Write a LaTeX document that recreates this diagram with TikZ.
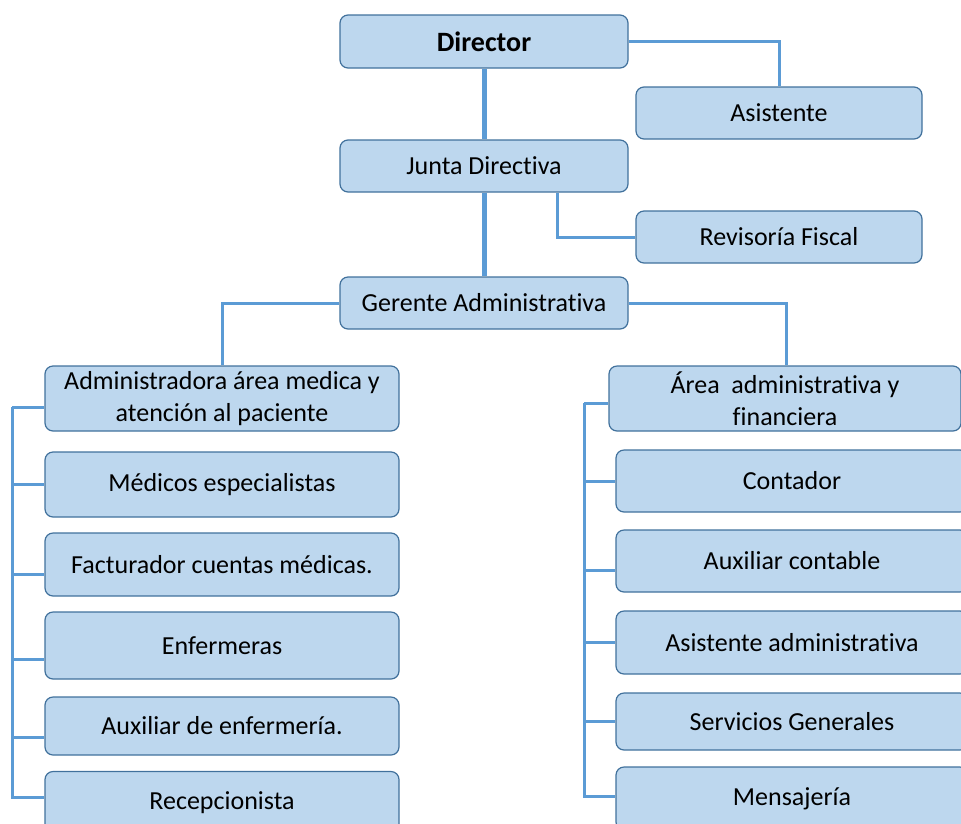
\documentclass[tikz,border=0pt]{standalone}
\usepackage{fontspec}
\setmainfont{Carlito}[Ligatures=NoCommon]
\definecolor{boxfill}{HTML}{BDD7EE}
\definecolor{boxline}{HTML}{41719C}
\definecolor{linkblue}{HTML}{5B9BD5}
\begin{document}
\begin{tikzpicture}[x=1pt, y=-1pt,
  orgbox/.style={draw=boxline, fill=boxfill, line width=1.2pt, rounded corners=8pt,
    inner sep=0pt, align=center, font=\fontsize{26}{32}\selectfont},
  link/.style={draw=linkblue, line width=3pt},
  trunk/.style={draw=linkblue, line width=5pt}]

\useasboundingbox (0,0) rectangle (961,823);

% Top of the chart
\node [orgbox, minimum width=288, minimum height=53, font=\fontsize{28}{32}\selectfont\bfseries]
  (director) at (484,41.5) {Director};
\node [orgbox, minimum width=286, minimum height=52] (asistente) at (779,113) {Asistente};
\node [orgbox, minimum width=288, minimum height=52] (junta) at (484,166) {Junta Directiva};
\node [orgbox, minimum width=286, minimum height=52] (revisoria) at (779,237) {Revisoría Fiscal};
\node [orgbox, minimum width=288, minimum height=52] (gerente) at (484,303) {Gerente Administrativa};

% The two areas under the manager
\node [orgbox, minimum width=354, minimum height=65] (medica) at (222,398.5)
  {Administradora área medica y\\atención al paciente};
\node [orgbox, minimum width=352, minimum height=65] (financiera) at (785,398.5)
  {Área~ administrativa y\\financiera};

% Staff of the medical area
\foreach \name/\yc/\h/\txt in {
  medicos/484.5/65/{Médicos especialistas},
  facturador/564.5/63/{Facturador cuentas médicas.},
  enfermeras/645.5/67/{Enfermeras},
  auxenf/726/58/{Auxiliar de enfermería.},
  recepcion/803/63/{Recepcionista}} {
  \node [orgbox, minimum width=354, minimum height=\h] (\name) at (222,\yc) {\txt};
}

% Staff of the administrative area
\foreach \name/\yc/\h/\txt in {
  contador/481/62/{Contador},
  auxcont/561/62/{Auxiliar contable},
  asisadm/642.5/63/{Asistente administrativa},
  servicios/721.5/57/{Servicios Generales},
  mensajeria/798.5/63/{Mensajería}} {
  \node [orgbox, minimum width=352, minimum height=\h] (\name) at (792,\yc) {\txt};
}

% Main line of command
\draw [trunk] (director) -- (junta);
\draw [trunk] (junta) -- (gerente);
\draw [link] (director.east) -| (asistente.north);
\draw [link] ([xshift=73]junta.south) |- (revisoria.west);
\draw [link] (gerente.west) -| (medica.north);
\draw [link] (gerente.east) -| ([xshift=1]financiera.north);

% Left and right buses
\coordinate (lbus) at (12,407);
\coordinate (rbus) at (584,403);
\foreach \name/\dy in {medica/-8.5, medicos/0, facturador/-9.5, enfermeras/-13.5,
  auxenf/-11, recepcion/6} {
  \draw [link] (lbus) |- ([yshift=\dy]\name.west);
}
\foreach \name/\dy in {financiera/-4.5, contador/0, auxcont/-9, asisadm/0,
  servicios/0, mensajeria/2.5} {
  \draw [link] (rbus) |- ([yshift=\dy]\name.west);
}

\end{tikzpicture}
\end{document}
